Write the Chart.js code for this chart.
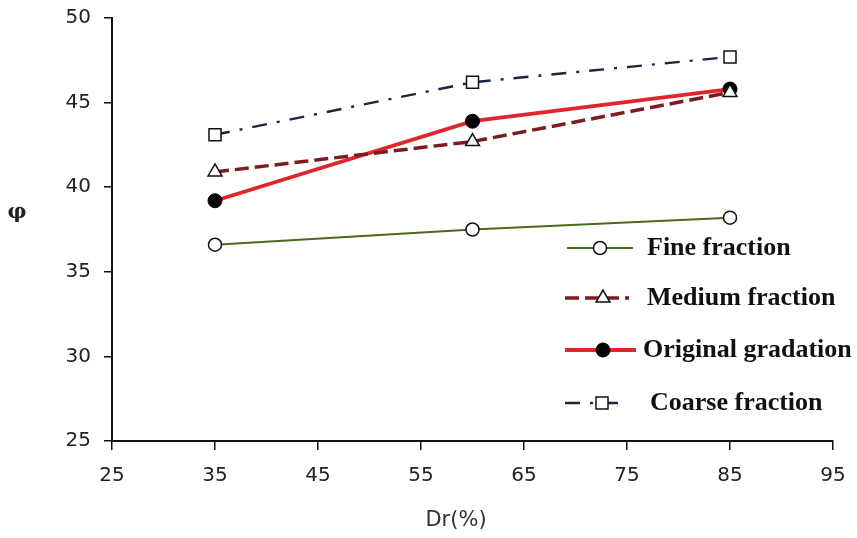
<!DOCTYPE html>
<html>
<head>
<meta charset="utf-8">
<script src="https://cdn.jsdelivr.net/npm/chart.js@4"></script>
<style>
html,body{margin:0;padding:0;background:#fff;}
#wrap{width:857px;height:538px;position:relative;}
</style>
</head>
<body>
<div id="wrap"><canvas id="c" width="857" height="538"></canvas></div>
<script>
const xValues = [35, 60, 85];
const fineFraction = [36.6, 37.5, 38.2];
const mediumFraction = [40.9, 42.7, 45.6];
const originalGradation = [39.2, 43.9, 45.8];
const coarseFraction = [43.1, 46.2, 47.7];
const seriesNames = ['Fine fraction', 'Medium fraction', 'Original gradation', 'Coarse fraction'];
const xTicks = [25, 35, 45, 55, 65, 75, 85, 95];
const yTicks = [25, 30, 35, 40, 45, 50];
const xTitle = 'Dr(%)';
const yTitle = 'φ';

function pts(ys){ return xValues.map((x,i)=>({x:x, y:ys[i]})); }

const datasets = [
  {label: seriesNames[0], data: pts(fineFraction), borderColor:'#4b6a1e', borderWidth:2,
   pointStyle:'circle', pointRadius:6.5, pointBackgroundColor:'#fff', pointBorderColor:'#111', pointBorderWidth:1.5},
  {label: seriesNames[1], data: pts(mediumFraction), borderColor:'#7a1c20', borderWidth:3.5, borderDash:[14,6],
   pointStyle:'triangle', pointRadius:8, pointBackgroundColor:'#fff', pointBorderColor:'#111', pointBorderWidth:1.5},
  {label: seriesNames[2], data: pts(originalGradation), borderColor:'#e1252b', borderWidth:3.8,
   pointStyle:'circle', pointRadius:7, pointBackgroundColor:'#000', pointBorderColor:'#000', pointBorderWidth:1},
  {label: seriesNames[3], data: pts(coarseFraction), borderColor:'#1c2540', borderWidth:2.4, borderDash:[15,10,3,10],
   pointStyle:'rect', pointRadius:8.5, pointBackgroundColor:'#fff', pointBorderColor:'#111', pointBorderWidth:1.5}
];
datasets.forEach(d=>{ d.fill=false; d.tension=0; });

const legendRows = [
  {y:248, x1:567, x2:633, mx:600, tx:647},
  {y:298, x1:565, x2:629, mx:603, tx:647},
  {y:350, x1:565, x2:636, mx:603, tx:643},
  {y:403, x1:565, x2:626, mx:602, tx:650}
];

const overlay = {
  id:'overlay',
  afterDraw(chart){
    const ctx = chart.ctx;
    ctx.save();
    ctx.fillStyle = '#222';
    ctx.textAlign = 'center';
    ctx.textBaseline = 'middle';
    ctx.font = 'bold 21px "DejaVu Serif"';
    ctx.fillText(yTitle, 17, 213);
    ctx.font = '21px "DejaVu Sans"';
    ctx.fillStyle = '#333';
    ctx.fillText(xTitle, 456, 521);
    chart.data.datasets.forEach((ds, i)=>{
      const r = legendRows[i];
      ctx.save();
      ctx.strokeStyle = ds.borderColor;
      ctx.lineWidth = ds.borderWidth;
      ctx.setLineDash(ds.borderDash || []);
      ctx.beginPath();
      ctx.moveTo(r.x1, r.y); ctx.lineTo(r.x2, r.y);
      ctx.stroke();
      ctx.restore();
      ctx.save();
      ctx.fillStyle = ds.pointBackgroundColor;
      ctx.strokeStyle = ds.pointBorderColor;
      ctx.lineWidth = ds.pointBorderWidth;
      Chart.helpers.drawPoint(ctx, {pointStyle: ds.pointStyle, radius: ds.pointRadius, rotation:0, borderWidth: ds.pointBorderWidth}, r.mx, r.y);
      ctx.restore();
      ctx.fillStyle = '#111';
      ctx.font = 'bold 26px "Liberation Serif"';
      ctx.textAlign = 'left';
      ctx.textBaseline = 'middle';
      ctx.fillText(ds.label, r.tx, r.y);
    });
    ctx.restore();
  }
};

new Chart(document.getElementById('c'), {
  type:'line',
  data:{datasets},
  options:{
    responsive:false,
    animation:false,
    devicePixelRatio:1,
    layout:{padding:{left:0, right:24, top:18, bottom:0}},
    plugins:{legend:{display:false}, tooltip:{enabled:false}},
    scales:{
      x:{
        type:'linear', min:25, max:95,
        afterBuildTicks(s){ s.ticks = xTicks.map(v=>({value:v})); },
        afterFit(s){ s.height = 97; s.paddingLeft = 0; s.paddingRight = 0; },
        grid:{drawOnChartArea:false, drawTicks:true, tickLength:9, color:'#111', lineWidth:1.5},
        border:{display:true, color:'#111', width:2},
        ticks:{color:'#222', font:{family:'"DejaVu Sans"', size:20}, padding:14, maxRotation:0}
      },
      y:{
        type:'linear', min:25, max:50,
        afterBuildTicks(s){ s.ticks = yTicks.map(v=>({value:v})); },
        afterFit(s){ s.width = 112; s.paddingTop = 0; s.paddingBottom = 0; },
        grid:{drawOnChartArea:false, drawTicks:true, tickLength:8, color:'#111', lineWidth:1.5},
        border:{display:true, color:'#111', width:2},
        ticks:{color:'#222', font:{family:'"DejaVu Sans"', size:20}, padding:13}
      }
    }
  },
  plugins:[overlay]
});
</script>
</body>
</html>
